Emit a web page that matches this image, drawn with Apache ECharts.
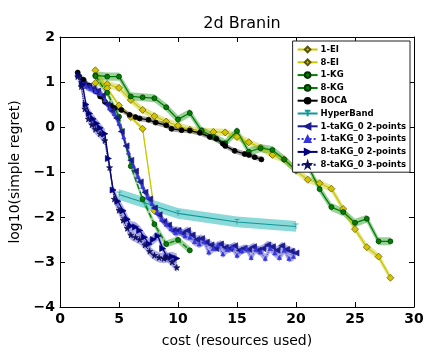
<!DOCTYPE html>
<html lang="en">
<head>
    <meta charset="UTF-8">
    <title>2d Branin</title>
    <script src="https://cdn.jsdelivr.net/npm/echarts@6/dist/echarts.min.js"></script>
    <style>
        html, body { margin: 0; padding: 0; background: #fff; }
    </style>
</head>
<body>
<div id="main" style="width: 441px;height:364px;"></div>
<script>
    // values
    var ei1X = [3, 4, 5, 6, 7, 8, 9, 10, 11, 12, 13, 14, 15, 16, 17, 18, 19, 20, 21, 22, 23, 24, 25, 26, 27, 28];
    var ei1Y = [0.98, 0.95, 0.87, 0.6, 0.38, 0.24, 0.12, 0.03, -0.06, -0.09, -0.11, -0.12, -0.22, -0.34, -0.46, -0.62, -0.72, -0.97, -1.17, -1.25, -1.37, -1.82, -2.27, -2.67, -2.88, -3.35];
    var ei8X = [3, 4, 5, 6, 7, 8];
    var ei8Y = [1.26, 0.86, 0.48, 0.22, -0.04, -1.86];
    var kg1X = [3, 4, 5, 6, 7, 8, 9, 10, 11, 12, 13, 14, 15, 16, 17, 18, 19, 20, 21, 22, 23, 24, 25, 26, 27, 28];
    var kg1Y = [1.15, 1.12, 1.12, 0.68, 0.66, 0.64, 0.44, 0.17, 0.31, -0.08, -0.22, -0.36, -0.09, -0.55, -0.47, -0.51, -0.72, -0.96, -0.86, -1.38, -1.78, -1.89, -2.13, -2.04, -2.54, -2.54];
    var kg8X = [3, 4, 5, 6, 7, 8, 9, 10, 11];
    var kg8Y = [1.13, 0.76, 0.23, -0.87, -1.6, -2.16, -2.6, -2.51, -2.74];
    var bocaX = [1.5, 2.0, 2.5, 3.0, 3.4, 3.8, 4.3, 4.6, 5.2, 5.9, 6.4, 6.75, 7.5, 8.1, 9.0, 9.45, 10.3, 11.0, 11.85, 12.7, 13.25, 13.8, 14.0, 14.8, 15.65, 16.0, 16.5, 17.07];
    var bocaY = [1.21, 1.05, 0.92, 0.8, 0.68, 0.56, 0.47, 0.42, 0.38, 0.27, 0.22, 0.19, 0.16, 0.1, 0.04, -0.04, -0.07, -0.08, -0.13, -0.22, -0.26, -0.37, -0.42, -0.53, -0.6, -0.62, -0.67, -0.72];
    var hbX = [5, 10, 15, 20];
    var hbY = [-1.5, -1.92, -2.11, -2.21];
    var ta1p2X = [2.0, 2.4, 2.8, 3.2, 3.6, 4.0, 4.4, 4.8, 5.2, 5.6, 6.0, 6.4, 6.8, 7.2, 7.6, 8.0, 8.4, 8.8, 9.2, 9.6, 10.0, 10.4, 10.8, 11.2, 11.6, 12.0, 12.4, 12.8, 13.2, 13.6, 14.0, 14.4, 14.8, 15.2, 15.6, 16.0, 16.4, 16.8, 17.2, 17.6, 18.0, 18.4, 18.8, 19.2, 19.6, 20.0];
    var ta1p2Y = [0.95, 0.9, 0.85, 0.8, 0.7, 0.5, 0.36, 0.2, -0.1, -0.42, -0.74, -0.98, -1.22, -1.45, -1.6, -1.8, -1.95, -2.1, -2.18, -2.3, -2.3, -2.36, -2.3, -2.4, -2.5, -2.48, -2.56, -2.62, -2.7, -2.6, -2.68, -2.7, -2.64, -2.74, -2.7, -2.72, -2.66, -2.74, -2.7, -2.62, -2.66, -2.74, -2.64, -2.72, -2.76, -2.8];
    var ta1p3X = [2.2, 2.6, 3.0, 3.4, 3.8, 4.2, 4.6, 5.0, 5.4, 5.8, 6.2, 6.6, 7.0, 7.4, 7.8, 8.2, 8.6, 9.0, 9.4, 9.8, 10.2, 10.6, 11.0, 11.4, 11.8, 12.2, 12.6, 13.0, 13.4, 13.8, 14.2, 14.6, 15.0, 15.4, 15.8, 16.2, 16.6, 17.0, 17.4, 17.8, 18.2, 18.6, 19.0, 19.4, 19.8];
    var ta1p3Y = [0.9, 0.86, 0.8, 0.74, 0.6, 0.42, 0.3, 0.08, -0.22, -0.56, -0.85, -1.1, -1.32, -1.55, -1.7, -1.9, -2.05, -2.16, -2.26, -2.35, -2.32, -2.42, -2.45, -2.55, -2.6, -2.55, -2.78, -2.7, -2.62, -2.82, -2.72, -2.68, -2.85, -2.75, -2.7, -2.9, -2.72, -2.78, -2.92, -2.7, -2.8, -2.9, -2.74, -2.92, -2.88];
    var ta8p2X = [1.6, 1.9, 2.2, 2.5, 2.8, 3.1, 3.4, 3.8, 4.1, 4.5, 4.9, 5.35, 5.7, 6.0, 6.4, 6.75, 7.15, 7.55, 7.9, 8.3, 8.7, 9.1, 9.5, 9.9];
    var ta8p2Y = [1.15, 0.95, 0.5, 0.3, 0.18, 0.08, -0.02, -0.15, -0.7, -1.4, -1.65, -1.86, -2.05, -2.2, -2.22, -2.3, -2.45, -2.6, -2.5, -2.42, -2.7, -2.9, -2.88, -2.92];
    var ta8p3X = [1.5, 1.8, 2.1, 2.4, 2.7, 3.0, 3.4, 3.8, 4.2, 4.6, 5.0, 5.35, 5.7, 6.0, 6.4, 6.75, 7.2, 7.6, 8.0, 8.4, 8.8, 9.1, 9.5, 9.9];
    var ta8p3Y = [1.12, 0.9, 0.4, 0.18, 0.05, -0.05, -0.15, -0.3, -0.9, -1.6, -1.85, -2.07, -2.25, -2.4, -2.45, -2.5, -2.62, -2.76, -2.85, -2.9, -2.92, -2.9, -3.0, -3.12];

    var xTicks = [0, 5, 10, 15, 20, 25, 30];
    var yTicks = [-4, -3, -2, -1, 0, 1, 2];

    var star = 'path://M50,0 L61,35 L98,35 L68,57 L79,91 L50,70 L21,91 L32,57 L2,35 L39,35 Z';
    var font = 'DejaVu Sans';

    function pairs(xs, ys) {
        var out = [];
        for (var i = 0; i < xs.length; i++) out.push([xs[i], ys[i]]);
        return out;
    }

    // shaded error band drawn through the axes
    function band(xs, ys, w, color) {
        return {
            type: 'custom', silent: true, z: 1,
            data: [[xs[0], ys[0]]],
            renderItem: function (params, api) {
                var pts = [];
                for (var i = 0; i < xs.length; i++) pts.push(api.coord([xs[i], ys[i] + w]));
                for (var j = xs.length - 1; j >= 0; j--) pts.push(api.coord([xs[j], ys[j] - w]));
                return {type: 'polygon', shape: {points: pts}, style: {fill: color}};
            }
        };
    }

    function line(name, xs, ys, color, symbol, size, opts) {
        opts = opts || {};
        return {
            name: name, type: 'line', z: 3,
            data: pairs(xs, ys),
            showSymbol: true, showAllSymbol: true,
            symbol: symbol, symbolSize: size, symbolRotate: opts.rotate || 0,
            lineStyle: {color: color, width: opts.width || 1.3, type: opts.type || 'solid'},
            itemStyle: {color: opts.fill || color, borderColor: opts.edge || color, borderWidth: opts.edgeW || 0.7}
        };
    }

    function frameAxis(extra) {
        var a = {
            type: 'value', interval: 1,
            axisLine: {onZero: false, lineStyle: {color: '#000', width: 1}},
            axisTick: {inside: true, length: 5, lineStyle: {color: '#000'}},
            axisLabel: {show: false}, splitLine: {show: false}
        };
        for (var k in extra) a[k] = extra[k];
        return a;
    }

    var myChart = echarts.init(document.getElementById('main'));

    var names = ['1-EI', '8-EI', '1-KG', '8-KG', 'BOCA', 'HyperBand',
        '1-taKG_0 2-points', '1-taKG_0 3-points', '8-taKG_0 2-points', '8-taKG_0 3-points'];

    var taBand = 'rgba(70,70,200,0.45)';
    var tickLabel = {fontFamily: font, fontSize: 14, fontWeight: 'bold', color: '#000', margin: 5};

    var option = {
        animation: false,
        backgroundColor: '#fff',
        title: {
            text: '2d Branin', left: 237, top: 11, textAlign: 'center',
            textStyle: {fontFamily: font, fontSize: 16, fontWeight: 'normal', color: '#000'}
        },
        legend: {
            data: names, orient: 'vertical', right: 31, top: 41,
            backgroundColor: '#fff', borderColor: '#222', borderWidth: 1,
            padding: [4, 4, 3, 4], itemWidth: 20, itemHeight: 7, itemGap: 3.8,
            textStyle: {fontFamily: font, fontSize: 8.5, lineHeight: 9, fontWeight: 'bold', color: '#000', padding: [0, 0, 0, -2]}
        },
        grid: {left: 60, right: 27, top: 37, bottom: 57},
        xAxis: [
            frameAxis({
                min: xTicks[0], max: xTicks[xTicks.length - 1], interval: 5,
                name: 'cost (resources used)', nameLocation: 'middle', nameGap: 27,
                nameTextStyle: {fontFamily: font, fontSize: 14, color: '#000'},
                axisLabel: tickLabel
            }),
            frameAxis({position: 'top', min: xTicks[0], max: xTicks[xTicks.length - 1], interval: 5})
        ],
        yAxis: [
            frameAxis({
                min: yTicks[0], max: yTicks[yTicks.length - 1],
                name: 'log10(simple regret)', nameLocation: 'middle', nameGap: 31,
                nameTextStyle: {fontFamily: font, fontSize: 14, color: '#000'},
                axisLabel: {
                    fontFamily: font, fontSize: 14, fontWeight: 'bold', color: '#000', margin: 5,
                    formatter: function (v) { return String(v).replace('-', '\u2212'); }
                }
            }),
            frameAxis({position: 'right', min: yTicks[0], max: yTicks[yTicks.length - 1]})
        ],
        series: [
            band(ei1X, ei1Y, 0.08, 'rgba(200,200,20,0.45)'),
            band(ei8X, ei8Y, 0.05, 'rgba(200,200,20,0.45)'),
            band(kg1X, kg1Y, 0.09, 'rgba(30,150,30,0.45)'),
            band(kg8X, kg8Y, 0.08, 'rgba(30,150,30,0.45)'),
            band(bocaX, bocaY, 0.06, 'rgba(0,0,0,0.35)'),
            band(hbX, hbY, 0.12, 'rgba(0,170,170,0.45)'),
            band(ta1p2X, ta1p2Y, 0.09, taBand),
            band(ta1p3X, ta1p3Y, 0.09, taBand),
            band(ta8p2X, ta8p2Y, 0.11, taBand),
            band(ta8p3X, ta8p3Y, 0.11, taBand),

            line('1-EI', ei1X, ei1Y, '#c8c800', 'diamond', 7, {fill: '#d4c400', edge: '#5a5400'}),
            line('8-EI', ei8X, ei8Y, '#c8c800', 'diamond', 7, {fill: '#d4c400', edge: '#5a5400'}),
            line('1-KG', kg1X, kg1Y, '#008000', 'circle', 5, {edge: '#003300'}),
            line('8-KG', kg8X, kg8Y, '#008000', 'circle', 5, {edge: '#003300', type: 'dashed'}),
            line('BOCA', bocaX, bocaY, '#000000', 'circle', 5),
            line('HyperBand', hbX, hbY, '#109898', 'path://M0,0 L10,0 M5,0 L5,10', 5, {width: 1.1}),
            line('1-taKG_0 2-points', ta1p2X, ta1p2Y, '#1c1c90', 'triangle', 6, {rotate: 90}),
            line('1-taKG_0 3-points', ta1p3X, ta1p3Y, '#3535e0', 'triangle', 4, {type: 'dotted', width: 1}),
            line('8-taKG_0 2-points', ta8p2X, ta8p2Y, '#000080', 'triangle', 6, {rotate: -90}),
            line('8-taKG_0 3-points', ta8p3X, ta8p3Y, '#101060', star, 6, {type: 'dotted', width: 1.1})
        ]
    };

    myChart.setOption(option);
</script>
</body>
</html>
